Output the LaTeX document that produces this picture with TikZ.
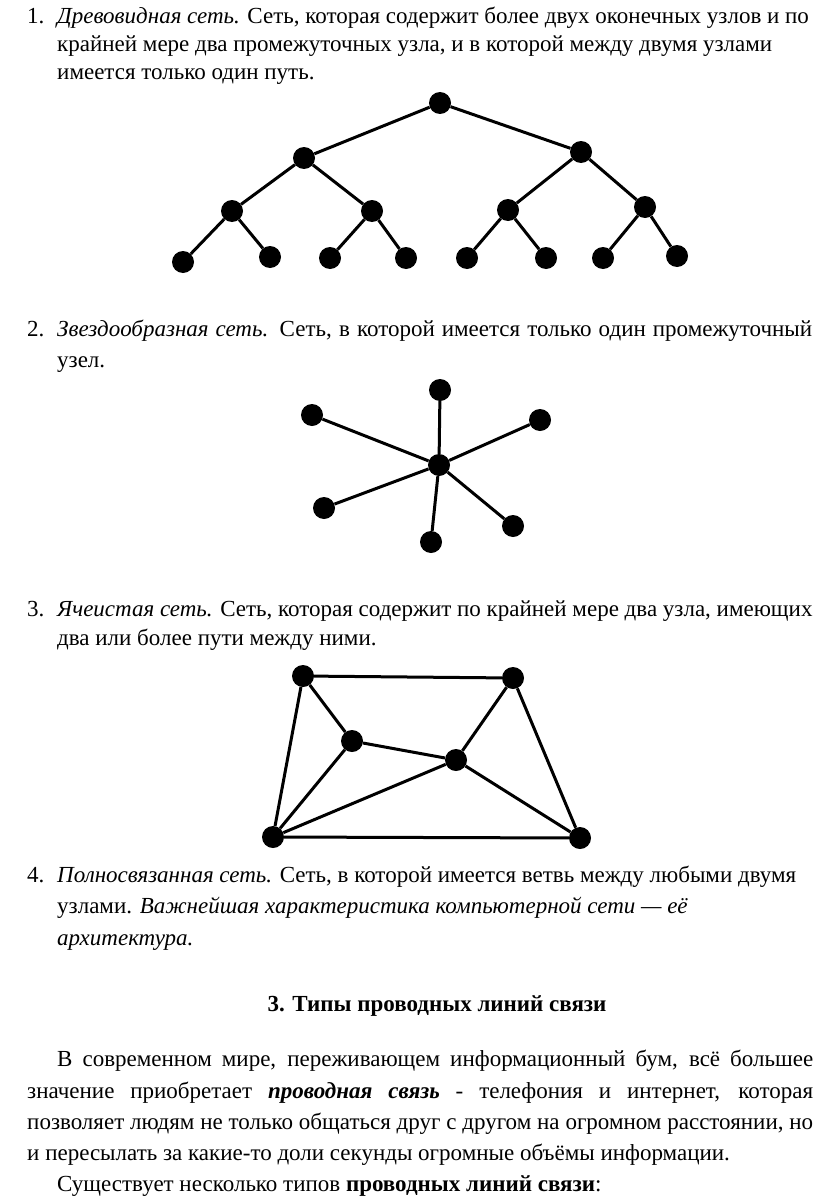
\documentclass[tikz,border=0pt]{standalone}
\usepackage{fontspec}
\setmainfont{Liberation Serif}
\tikzset{
  dot/.style={circle,fill=black,inner sep=0pt,minimum size=22pt},
  edge/.style={line width=3pt},
  txt/.style={anchor=base west,inner sep=0pt,font=\fontsize{23}{27}\selectfont},
}
\begin{document}
\begin{tikzpicture}[x=1pt,y=-1pt]
\fill[white] (0,0) rectangle (816,1196);
\useasboundingbox (0,0) rectangle (816,1196);
% ---- item 1
\node[txt] (n1) at (27,24) {1.};
\node[txt] (t1a) at (57,24) {\textit{Древовидная сеть.} Сеть, которая содержит более двух оконечных узлов и по};
\node[txt] (t1b) at (57,52) {крайней мере два промежуточных узла, и в которой между двумя узлами};
\node[txt] (t1c) at (57,80) {имеется только один путь.};
% tree
\node[dot] (r) at (440,103) {};
\node[dot] (a) at (304,158) {};
\node[dot] (b) at (581,152) {};
\node[dot] (a1) at (232,211) {};
\node[dot] (a2) at (372,211) {};
\node[dot] (b1) at (508,210) {};
\node[dot] (b2) at (645,207) {};
\node[dot] (l1) at (183,262) {};
\node[dot] (l2) at (270,257) {};
\node[dot] (l3) at (330,258) {};
\node[dot] (l4) at (406,258) {};
\node[dot] (l5) at (467,258) {};
\node[dot] (l6) at (546,258) {};
\node[dot] (l7) at (603,258) {};
\node[dot] (l8) at (677,256) {};
\draw[edge] (r)--(a) (r)--(b) (a)--(a1) (a)--(a2) (b)--(b1) (b)--(b2)
  (a1)--(l1) (a1)--(l2) (a2)--(l3) (a2)--(l4) (b1)--(l5) (b1)--(l6) (b2)--(l7) (b2)--(l8);
% ---- item 2
\node[txt] (n2) at (27,336) {2.};
\node[txt] (t2a) at (57,336) {\hbox to 755pt{\textit{Звездообразная сеть.} Сеть, в которой имеется только один промежуточный}};
\node[txt] (t2b) at (57,367) {узел.};
% star
\node[dot] (c) at (439,465) {};
\node[dot] (s1) at (440,390) {};
\node[dot] (s2) at (312,415) {};
\node[dot] (s3) at (540,420) {};
\node[dot] (s4) at (324,508) {};
\node[dot] (s5) at (431,542) {};
\node[dot] (s6) at (513,526) {};
\draw[edge] (c)--(s1) (c)--(s2) (c)--(s3) (c)--(s4) (c)--(s5) (c)--(s6);
% ---- item 3
\node[txt] (n3) at (27,616) {3.};
\node[txt] (t3a) at (57,616) {\textit{Ячеистая сеть.} Сеть, которая содержит по крайней мере два узла, имеющих};
\node[txt] (t3b) at (57,645) {два или более пути между ними.};
% mesh
\node[dot] (m1) at (303,676) {};
\node[dot] (m2) at (513,678) {};
\node[dot] (m3) at (352,741) {};
\node[dot] (m4) at (456,760) {};
\node[dot] (m5) at (273,837) {};
\node[dot] (m6) at (580,838) {};
\draw[edge] (m1)--(m2) (m1)--(m5) (m1)--(m3) (m2)--(m4) (m2)--(m6) (m3)--(m4)
  (m3)--(m5) (m4)--(m5) (m4)--(m6) (m5)--(m6);
% ---- item 4
\node[txt] (n4) at (27,882) {4.};
\node[txt] (t4a) at (57,882) {\textit{Полносвязанная сеть.} Сеть, в которой имеется ветвь между любыми двумя};
\node[txt] (t4b) at (57,913) {узлами. \textit{Важнейшая характеристика компьютерной сети — её}};
\node[txt] (t4c) at (57,945) {\textit{архитектура.}};
% ---- heading
\node[txt,anchor=base,font=\bfseries\fontsize{23}{27}\selectfont] (h) at (437,1011) {3. Типы проводных линий связи};
% ---- paragraph
\node[txt] (p1) at (57,1066) {\hbox to 756pt{В современном мире, переживающем информационный бум, всё большее}};
\node[txt] (p2) at (27,1098) {\hbox to 786pt{значение приобретает \textbf{\textit{проводная связь}} - телефония и интернет, которая}};
\node[txt] (p3) at (27,1129) {\hbox to 786pt{позволяет людям не только общаться друг с другом на огромном расстоянии, но}};
\node[txt] (p4) at (27,1160) {и пересылать за какие-то доли секунды огромные объёмы информации.};
\node[txt] (p5) at (57,1191) {Существует несколько типов \textbf{проводных линий связи}:};
\end{tikzpicture}
\end{document}
